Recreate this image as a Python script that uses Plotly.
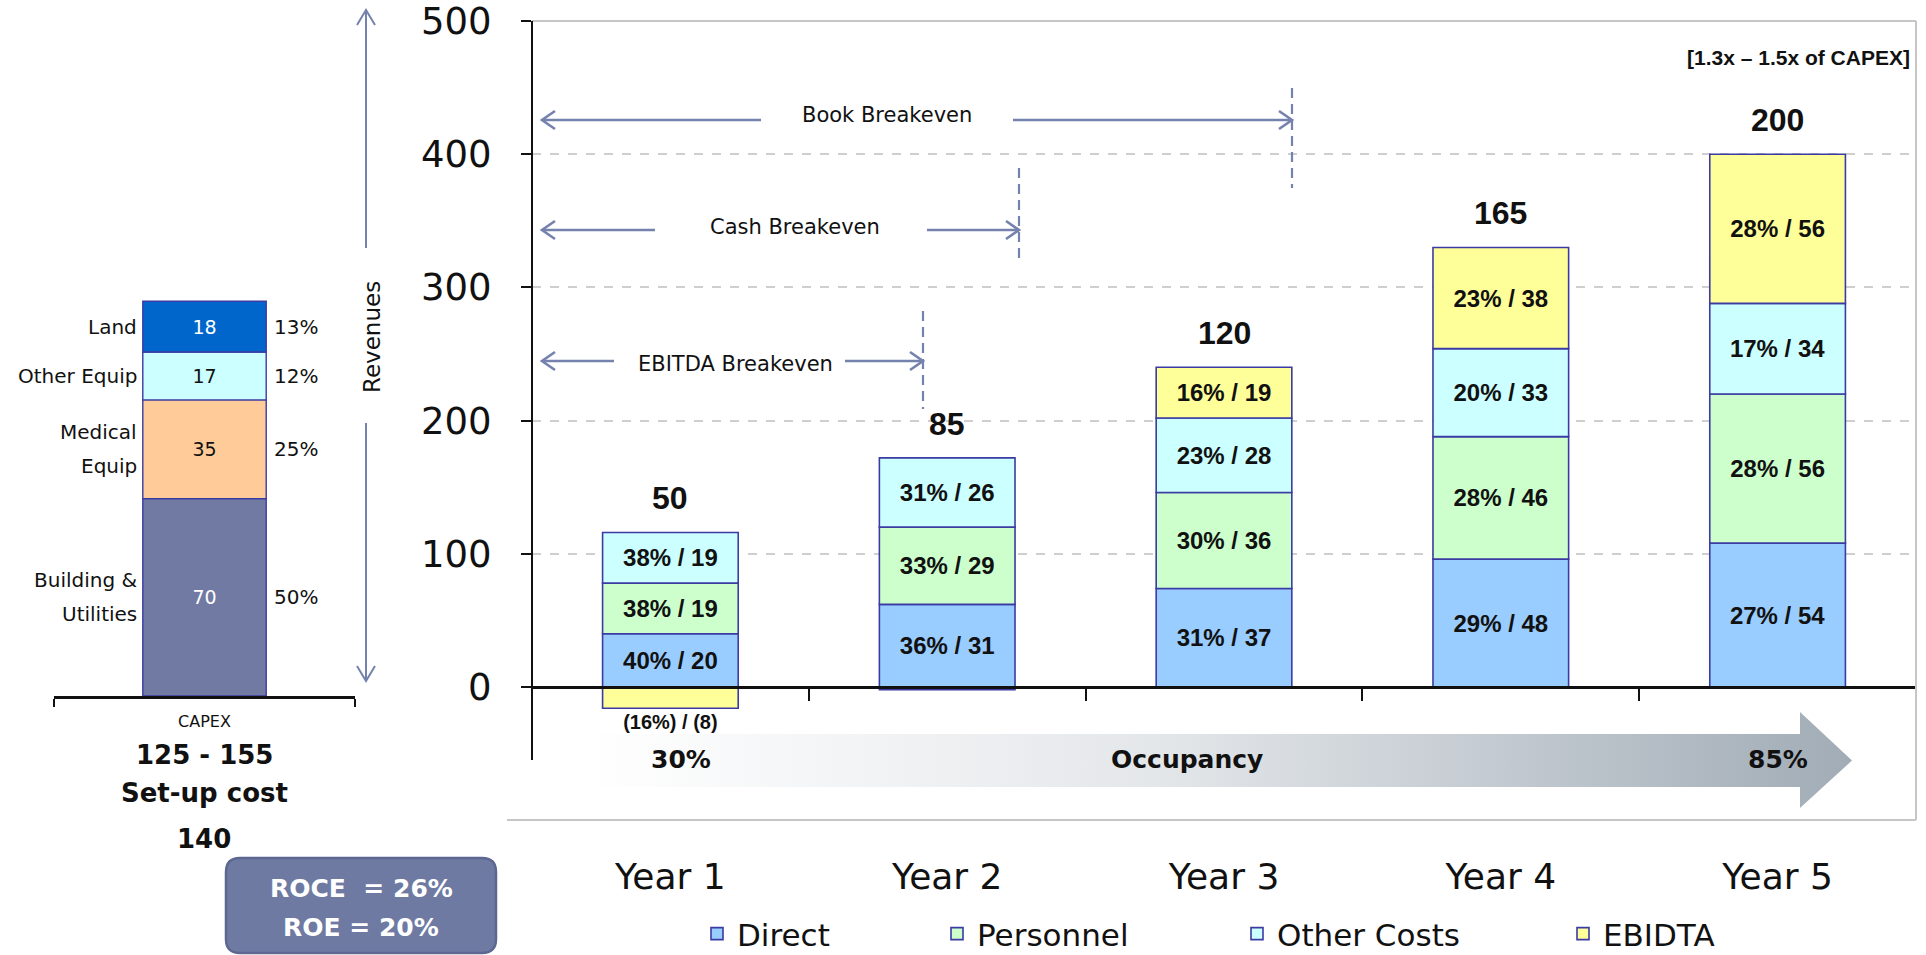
import plotly.graph_objects as go

# ---------------- data ----------------
years = ["Year 1", "Year 2", "Year 3", "Year 4", "Year 5"]
revenue = [50, 85, 120, 165, 200]

direct = [20, 31, 37, 48, 54]
direct_pct = [40, 36, 31, 29, 27]
personnel = [19, 29, 36, 46, 56]
personnel_pct = [38, 33, 30, 28, 28]
other_costs = [19, 26, 28, 33, 34]
other_costs_pct = [38, 31, 23, 20, 17]
ebitda = [-8, -1, 19, 38, 56]
ebitda_pct = [-16, None, 16, 23, 28]

revenue_ticks = [0, 100, 200, 300, 400, 500]

capex_category = ["CAPEX"]
capex_items = ["Building &<br>Utilities", "Medical<br>Equip", "Other Equip", "Land"]
capex_values = [70, 35, 17, 18]
capex_share = [50, 25, 12, 13]

occupancy_start, occupancy_end = "30%", "85%"
breakevens = ["Book Breakeven", "Cash Breakeven", "EBITDA Breakeven"]

# ---------------- style ----------------
W, H = 1926, 955
REV_SCALE = 2          # revenue axis reads twice the bar units
FONT = "DejaVu Sans"
BAR_FONT = "Liberation Sans"
EDGE = "#3b3ba3"
ARROW = "#7682ae"
INK = "#111111"
series_colors = {"Direct": "#99ccff", "Personnel": "#ccffcc",
                 "Other Costs": "#ccffff", "EBIDTA": "#ffff99"}
capex_colors = ["#717aa3", "#ffcc99", "#ccffff", "#0066cc"]
capex_text_colors = ["white", INK, INK, "white"]

# main plot frame in page pixels
PLOT_L, PLOT_R = 532, 1916
Y_TOP_PX, Y_ZERO_PX, Y_BOT_PX = 21, 687, 820      # 500 line, zero line, frame bottom
Y_LO, Y_HI = -50, 252                              # bar-unit range (small headroom on top)
PX_PER_UNIT = (Y_ZERO_PX - Y_TOP_PX) / 250


def py(y):
    return 1 - y / H


def px(x):
    return x / W


def seg_label(p, v):
    if p is None:
        return ""
    if v < 0:
        return f"({abs(p)}%) / ({abs(v)})"
    return f"{p}% / {v}"


def note(x, y, text, size, color=INK, xanchor="center", **kw):
    """Text placed in page pixel coordinates."""
    return dict(x=px(x), y=py(y), xref="paper", yref="paper", text=text, showarrow=False,
                xanchor=xanchor, yanchor="middle",
                font=dict(family=kw.pop("family", FONT), size=size, color=color), **kw)


fig = go.Figure()

series = [("Direct", direct, direct_pct), ("Personnel", personnel, personnel_pct),
          ("Other Costs", other_costs, other_costs_pct), ("EBIDTA", ebitda, ebitda_pct)]
legend_ids = ["legend", "legend2", "legend3", "legend4"]
legend_left = [697, 937, 1237, 1563]

for (name, vals, pcts), lg in zip(series, legend_ids):
    texts = [seg_label(p, v) for p, v in zip(pcts, vals)]
    positions = ["outside" if v < 0 and p is not None else ("none" if p is None else "inside")
                 for p, v in zip(pcts, vals)]
    fig.add_trace(go.Bar(
        x=years, y=vals, name=name, legend=lg,
        width=0.49,
        marker=dict(color=series_colors[name], line=dict(color=EDGE, width=1.6)),
        text=texts, textposition=positions, insidetextanchor="middle",
        textangle=0, constraintext="none", cliponaxis=False,
        insidetextfont=dict(family=BAR_FONT, size=24, color=INK, weight="bold"),
        outsidetextfont=dict(family=BAR_FONT, size=20, color=INK, weight="bold"),
        hoverinfo="skip",
        xaxis="x", yaxis="y",
    ))

# CAPEX stacked bar
for item, val, col, tcol in zip(capex_items, capex_values, capex_colors, capex_text_colors):
    fig.add_trace(go.Bar(
        x=capex_category, y=[val], name=item.replace("<br>", " "), showlegend=False,
        width=0.41,
        marker=dict(color=col, line=dict(color=EDGE, width=1.4)),
        text=[str(val)], textposition="inside", insidetextanchor="middle",
        textangle=0, constraintext="none",
        insidetextfont=dict(family=FONT, size=19, color=tcol),
        hoverinfo="skip",
        xaxis="x2", yaxis="y2",
    ))

# Occupancy arrow with a horizontal gradient (pixel overlay axes)
ax_l, ax_base, ax_tip = 583, 1800, 1852
b_top, b_bot, h_top, h_bot = 734, 787, 712, 808
mid = (b_top + b_bot) / 2
fig.add_trace(go.Scatter(
    x=[ax_l, ax_base, ax_base, ax_tip, ax_base, ax_base, ax_l, ax_l],
    y=[b_top, b_top, h_top, mid, h_bot, b_bot, b_bot, b_top],
    mode="lines", line=dict(width=0), fill="toself",
    fillgradient=dict(type="horizontal",
                      colorscale=[[0, "#ffffff"], [0.45, "#e4e7ea"], [1, "#a1acb6"]]),
    showlegend=False, hoverinfo="skip", xaxis="x3", yaxis="y3",
))

# ---------------- annotations ----------------
ann = []
pos_stack = [sum(v for v in col if v > 0) for col in zip(direct, personnel, other_costs, ebitda)]
for yr, top, rev in zip(years, pos_stack, revenue):
    ann.append(dict(x=yr, y=top, xref="x", yref="y", text=f"<b>{rev}</b>", showarrow=False,
                    xanchor="center", yanchor="bottom", yshift=14,
                    font=dict(family=BAR_FONT, size=32, color=INK)))

ann.append(note(1912, 57, "<b>[1.3x – 1.5x of CAPEX]</b>", 21, xanchor="right",
                family=BAR_FONT))

# CAPEX side labels (one text per line to keep generous line spacing)
cum = 0
for item, val, share in zip(capex_items, capex_values, capex_share):
    mid_v = cum + val / 2
    cum += val
    parts = item.split("<br>")
    for i, part in enumerate(parts):
        shift = (len(parts) - 1) * 17 - i * 34
        ann.append(dict(x=px(139), y=mid_v, xref="paper", yref="y2", xanchor="right",
                        yanchor="middle", yshift=shift, text=part, showarrow=False,
                        font=dict(family=FONT, size=20, color=INK)))
    ann.append(dict(x=px(272), y=mid_v, xref="paper", yref="y2", xanchor="left",
                    yanchor="middle", text=f"{share}%", showarrow=False,
                    font=dict(family=FONT, size=20, color=INK)))

for txt, yy in [("125 - 155", 755), ("Set-up cost", 793), (str(sum(capex_values)), 839)]:
    ann.append(note(204, yy, f"<b>{txt}</b>", 26))

# Occupancy labels
for txt, xx in [(occupancy_start, 681), ("Occupancy", 1187), (occupancy_end, 1778)]:
    ann.append(note(xx, 759, f"<b>{txt}</b>", 25))

# Revenues axis caption
ann.append(note(372, 337, "Revenues", 23, textangle=-90))

# ROCE / ROE box text
ann.append(note(361, 888, "<b>ROCE \u00a0= 26%</b>", 25, color="white"))
ann.append(note(361, 927, "<b>ROE = 20%</b>", 25, color="white"))

# ---------------- shapes ----------------
shapes = []


def line(x0, y0, x1, y1, color, width=2.0, dash="solid"):
    shapes.append(dict(type="line", xref="x3", yref="y3", x0=x0, y0=y0, x1=x1, y1=y1,
                       line=dict(color=color, width=width, dash=dash), layer="above"))


def path(d, color, width=2.4, fill=None):
    shapes.append(dict(type="path", xref="x3", yref="y3", path=d,
                       line=dict(color=color, width=width),
                       fillcolor=fill if fill else "rgba(0,0,0,0)", layer="above"))


# plot frame
line(PLOT_L, Y_TOP_PX, PLOT_R, Y_TOP_PX, "#c6c6c6", 2)
line(PLOT_R, Y_TOP_PX, PLOT_R, Y_BOT_PX, "#c6c6c6", 2)
line(507, Y_BOT_PX, PLOT_R, Y_BOT_PX, "#c6c6c6", 2)
# revenue axis line
line(PLOT_L, Y_TOP_PX, PLOT_L, 760, INK, 2)

# breakeven arrows: (line y, left end, text centre, text y, right start, tip, dashed y-span)
be_geo = [(120, 761, 887, 115, 1013, 1292, (88, 188)),
          (230, 655, 795, 227, 927, 1019, (168, 264)),
          (361, 614, 735, 364, 845, 923, (311, 409))]
for label, (yy, lend, tc, ty, rstart, tip, (d0, d1)) in zip(breakevens, be_geo):
    line(542, yy, lend, yy, ARROW, 2.6)
    line(rstart, yy, tip, yy, ARROW, 2.6)
    path(f"M{542 + 13},{yy - 9} L542,{yy} L{542 + 13},{yy + 9}", ARROW, 2.6)
    path(f"M{tip - 13},{yy - 9} L{tip},{yy} L{tip - 13},{yy + 9}", ARROW, 2.6)
    line(tip, d0, tip, d1, ARROW, 2.2, "10px,6px")
    ann.append(note(tc, ty, label, 21))

# revenues double arrow
line(366, 11, 366, 248, ARROW, 2)
line(366, 423, 366, 680, ARROW, 2)
path("M357,25 L366,10 L375,25", ARROW, 2)
path("M357,666 L366,681 L375,666", ARROW, 2)

# ROCE box (rounded)
r = 14
x0, x1, y0, y1 = 226, 496, 858, 953
path(f"M{x0 + r},{y0} L{x1 - r},{y0} Q{x1},{y0} {x1},{y0 + r} L{x1},{y1 - r} Q{x1},{y1} {x1 - r},{y1} "
     f"L{x0 + r},{y1} Q{x0},{y1} {x0},{y1 - r} L{x0},{y0 + r} Q{x0},{y0} {x0 + r},{y0} Z",
     "#5d6892", 2.5, fill="#6f7aa3")

# ---------------- layout ----------------
legend_common = dict(y=py(934), yanchor="middle", xanchor="left", bgcolor="rgba(0,0,0,0)",
                     font=dict(family=FONT, size=31, color=INK), itemclick=False,
                     itemdoubleclick=False)
legends = {lg: dict(x=px(xl), **legend_common) for lg, xl in zip(legend_ids, legend_left)}

y_dom_top = Y_TOP_PX - (Y_HI - 250) * PX_PER_UNIT
y_dom_bot = Y_ZERO_PX - Y_LO * PX_PER_UNIT

fig.update_layout(
    width=W, height=H,
    margin=dict(l=0, r=0, t=0, b=0, autoexpand=False),
    paper_bgcolor="white", plot_bgcolor="rgba(0,0,0,0)",
    barmode="relative",
    showlegend=True,
    xaxis=dict(domain=[px(PLOT_L), px(PLOT_R)], anchor="free", position=py(Y_ZERO_PX),
               type="category", range=[-0.5, 4.5], showline=True, linecolor=INK,
               linewidth=2.5, ticks="outside", tickson="boundaries", ticklen=12,
               tickwidth=2, tickcolor=INK, showgrid=False, zeroline=False,
               ticklabelstandoff=157, automargin=False,
               tickfont=dict(family=FONT, size=36, color=INK)),
    yaxis=dict(domain=[py(y_dom_bot), py(y_dom_top)], anchor="x", range=[Y_LO, Y_HI],
               tickvals=[t / REV_SCALE for t in revenue_ticks],
               ticktext=[str(t) for t in revenue_ticks],
               ticks="outside", ticklen=10, tickwidth=2, tickcolor=INK,
               ticklabelstandoff=22, ticklabeloverflow="allow", automargin=False,
               showline=False, zeroline=False,
               showgrid=True, gridcolor="#cfcfcf", gridwidth=1.5, griddash="dash",
               tickfont=dict(family=FONT, size=37, color=INK)),
    xaxis2=dict(domain=[px(54), px(355)], anchor="y2", type="category", range=[-0.5, 0.5],
                showline=True, linecolor=INK, linewidth=2.5, ticks="outside",
                tickson="boundaries", ticklen=8, tickwidth=2, tickcolor=INK,
                showgrid=False, zeroline=False, ticklabelstandoff=9, automargin=False,
                tickfont=dict(family=FONT, size=16, color=INK)),
    yaxis2=dict(domain=[py(696), py(273)], anchor="x2", range=[0, 150], visible=False,
                automargin=False),
    xaxis3=dict(domain=[0, 1], anchor="y3", range=[0, W], visible=False, fixedrange=True,
                automargin=False),
    yaxis3=dict(domain=[0, 1], anchor="x3", range=[H, 0], visible=False, fixedrange=True,
                automargin=False),
    annotations=ann,
    shapes=shapes,
    **legends,
)

fig.write_html("out.html")
